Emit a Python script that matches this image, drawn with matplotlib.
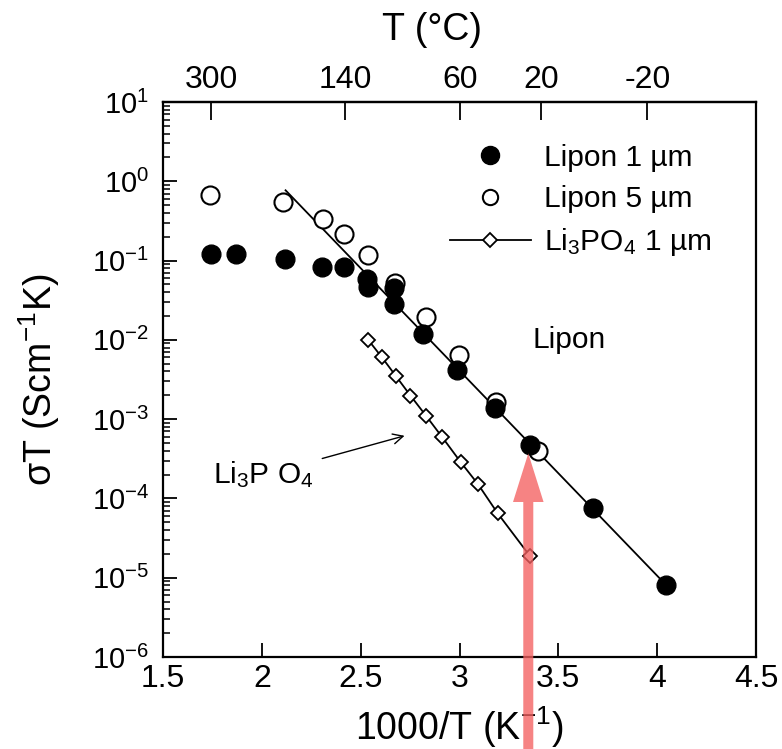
import numpy as np
import matplotlib
matplotlib.use("Agg")
import matplotlib.pyplot as plt
from matplotlib.lines import Line2D

plt.rcParams["font.family"] = ["Liberation Sans", "DejaVu Sans"]
plt.rcParams["mathtext.fontset"] = "custom"
plt.rcParams["mathtext.rm"] = "Liberation Sans"
plt.rcParams["mathtext.it"] = "Liberation Sans:italic"
plt.rcParams["mathtext.bf"] = "Liberation Sans:bold"

# valores (1000/T em K^-1, sigma*T em S cm^-1 K)
lipon1_x = [1.745, 1.869, 2.115, 2.302, 2.418, 2.532, 2.536, 2.668, 2.668, 2.817, 2.987, 3.181, 3.357, 3.676, 4.045]
lipon1_y = [0.12, 0.12, 0.106, 0.082, 0.082, 0.058, 0.047, 0.045, 0.028, 0.012, 0.0042, 0.0014, 4.7e-4, 7.6e-5, 8.1e-6]

lipon5_x = [1.74, 2.109, 2.308, 2.414, 2.538, 2.674, 2.831, 2.997, 3.187, 3.396]
lipon5_y = [0.68, 0.55, 0.33, 0.216, 0.116, 0.052, 0.0197, 0.0064, 0.00165, 4.0e-4]

li3po4_x = [2.538, 2.608, 2.678, 2.752, 2.831, 2.913, 3.007, 3.093, 3.193, 3.357]
li3po4_y = [0.0100, 0.0060, 0.0035, 0.00198, 0.00110, 5.9e-4, 2.85e-4, 1.52e-4, 6.5e-5, 1.87e-5]

# reta de ajuste do Lipon
ajuste_x = [2.12, 4.045]
ajuste_y = [0.77, 8.1e-6]

# temperaturas do eixo superior (graus C)
temp_ticks = [300, 140, 60, 20, -20]
x_ticks = [1.5, 2, 2.5, 3, 3.5, 4, 4.5]

# seta vermelha (ponta)
seta_x = 3.348
seta_y = 3.7e-4

fig = plt.figure(figsize=(7.82, 7.49), dpi=100)
ax = fig.add_axes([163 / 782, 1 - 657 / 749, 593 / 782, 555 / 749])

ax.plot(ajuste_x, ajuste_y, "-", color="black", lw=1.3, zorder=2)
ax.plot(lipon5_x, lipon5_y, "o", ms=13, mfc="white", mec="black", mew=1.5, zorder=3)
ax.plot(lipon1_x, lipon1_y, "o", ms=13.5, mfc="black", mec="black", zorder=4)
ax.plot(li3po4_x, li3po4_y, "-D", color="black", lw=1.3, ms=7.5, mfc="white", mec="black", mew=1.3, zorder=3)

ax.set_yscale("log")
ax.set_xlim(1.5, 4.5)
ax.set_ylim(1e-6, 1e1)
ax.set_xticks(x_ticks)
ax.set_xticklabels(["1.5", "2", "2.5", "3", "3.5", "4", "4.5"])
ax.set_yticks([10.0 ** k for k in range(-6, 2)])

for s in ax.spines.values():
    s.set_linewidth(1.6)

ax.tick_params(axis="x", which="both", direction="in", top=False, bottom=True, length=10, width=1.3,
               labelsize=23, pad=5)
ax.tick_params(axis="y", which="major", direction="in", left=True, right=False, length=10, width=1.3,
               labelsize=21, pad=10)
ax.tick_params(axis="y", which="minor", direction="in", left=True, right=False, length=5, width=1.1)

ax.set_xlabel("1000/T (K$^{-1}$)", fontsize=27)
ax.xaxis.set_label_coords(0.5, -0.085)
ax.set_ylabel("σT (Scm$^{-1}$K)", fontsize=27)
ax.yaxis.set_label_coords(-0.17, 0.5)


def x_para_c(x):
    x = np.asarray(x, dtype=float)
    with np.errstate(divide="ignore", invalid="ignore"):
        return 1000.0 / x - 273.15


def c_para_x(t):
    t = np.asarray(t, dtype=float)
    with np.errstate(divide="ignore", invalid="ignore"):
        return 1000.0 / (t + 273.15)


sec = ax.secondary_xaxis("top", functions=(x_para_c, c_para_x))
sec.set_xticks(temp_ticks)
sec.set_xticklabels([str(t) for t in temp_ticks])
sec.tick_params(axis="x", which="major", direction="in", length=13, width=1.3, labelsize=23, pad=5)
sec.tick_params(axis="x", which="minor", length=0)
sec.spines["top"].set_linewidth(1.6)
ax.text(0.4536, 1.13, "T (°C)", transform=ax.transAxes, fontsize=27, ha="center", va="center")

# legenda
handles = [
    Line2D([], [], ls="none", marker="o", ms=13, mfc="black", mec="black"),
    Line2D([], [], ls="none", marker="o", ms=11, mfc="white", mec="black", mew=1.5),
    Line2D([], [], ls="-", color="black", lw=1.3, marker="D", ms=7.5, mfc="white", mec="black", mew=1.3),
]
labels = ["Lipon 1 µm", "Lipon 5 µm", "Li$_3$PO$_4$ 1 µm"]
ax.legend(handles, labels, loc="upper left", bbox_to_anchor=(0.484, 0.925), frameon=False,
          fontsize=21.5, handlelength=2.7, handletextpad=0.45, labelspacing=0.45,
          borderpad=0, borderaxespad=0, numpoints=1)

ax.text(3.555, 1e-2, "Lipon", fontsize=21.5, ha="center", va="center")
ax.annotate("Li$_3$P O$_4$", xy=(2.722, 10 ** -3.21), xytext=(1.755, 10 ** -3.7),
            fontsize=21.5, ha="left", va="center",
            arrowprops=dict(arrowstyle="->", color="black", lw=1.0, shrinkA=4, shrinkB=0,
                            mutation_scale=18))

# seta vermelha vinda da base da figura
ax.annotate("", xy=(seta_x, seta_y), xycoords="data",
            xytext=(seta_x, 0.0), textcoords=("data", "figure fraction"),
            arrowprops=dict(arrowstyle="simple,head_length=35,head_width=22,tail_width=7.2",
                            mutation_scale=1, color="#f46060", alpha=0.78, lw=0,
                            shrinkA=0, shrinkB=0),
            annotation_clip=False, zorder=10)

fig.savefig("out.png", dpi=100)
